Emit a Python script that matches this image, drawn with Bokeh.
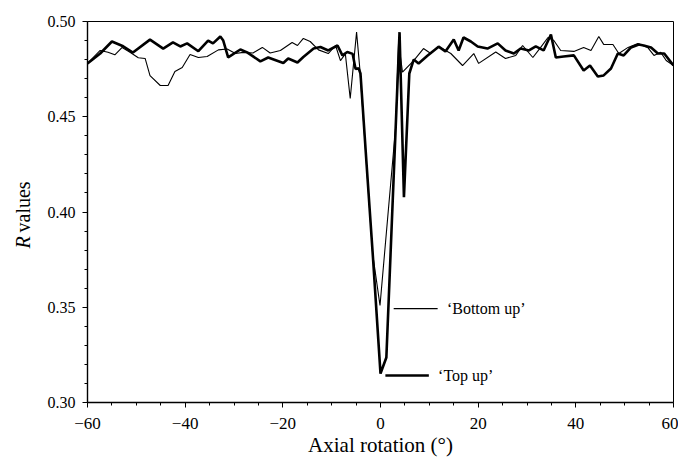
from bokeh.plotting import figure
from bokeh.models import FixedTicker, NumeralTickFormatter, Label, Range1d, Title
from bokeh.embed import file_html
from bokeh.resources import INLINE

# ---- data ----
top_up_deg = [-60, -57.4, -55.0, -52.7, -50.7, -47.2, -44.5, -42.5, -41.0, -39.6,
              -37.3, -35.3, -34.3, -32.8, -32.2, -31.2, -28.7, -27.3, -24.6, -23.0,
              -19.9, -18.9, -17.0, -15.8, -13.7, -12.3, -10.7, -8.8, -7.8, -6.8,
              -5.7, -5.1, -4.5, -4.1, -2.9, -1.5, 0.0, 1.2, 3.9, 4.8,
              5.9, 6.8, 7.8, 9.6, 11.9, 13.3, 15.0, 16.0, 17.0, 18.5,
              19.9, 21.9, 24.0, 25.6, 27.3, 28.7, 30.4, 31.8, 33.4, 34.9,
              35.9, 37.5, 39.6, 41.6, 42.9, 44.5, 45.7, 47.2, 48.6, 49.8,
              51.3, 52.9, 53.9, 55.4, 56.8, 58.1, 60.0]
top_up_r = [0.478, 0.4832, 0.4895, 0.487, 0.4837, 0.4905, 0.4858, 0.489, 0.4869, 0.4885,
            0.4844, 0.490, 0.4885, 0.4921, 0.490, 0.4812, 0.4853, 0.4838, 0.4791, 0.4811,
            0.4782, 0.4806, 0.4785, 0.4814, 0.4858, 0.4866, 0.4848, 0.4874, 0.4822, 0.484,
            0.483, 0.475, 0.4755, 0.4727, 0.427, 0.3745, 0.3152, 0.3236, 0.4944, 0.4078,
            0.4727, 0.480, 0.478, 0.482, 0.4868, 0.4843, 0.4906, 0.4848, 0.4916, 0.4895,
            0.4869, 0.4858, 0.4885, 0.4848, 0.4832, 0.4858, 0.4848, 0.4869, 0.4848, 0.4932,
            0.4811, 0.4816, 0.4822, 0.4743, 0.4769, 0.4711, 0.4717, 0.4753, 0.4832, 0.4822,
            0.4864, 0.4879, 0.4874, 0.4864, 0.4832, 0.4832, 0.4769]

bottom_up_deg = [-60, -57.4, -55.8, -54.4, -52.9, -51.3, -49.6, -48.2, -47.2, -45.1,
                 -43.5, -42.1, -40.6, -39.0, -37.3, -35.5, -33.2, -31.4, -29.7, -28.1,
                 -26.1, -24.2, -22.6, -20.5, -18.1, -17.0, -15.8, -14.4, -12.7, -10.7,
                 -9.2, -8.2, -7.2, -6.2, -4.9, -4.2, -1.6, -0.1, 1.6, 3.1,
                 3.7, 4.5, 6.8, 8.8, 10.3, 11.9, 14.4, 16.8, 19.1, 20.1,
                 23.6, 25.6, 27.7, 29.1, 31.2, 32.8, 34.3, 35.5, 36.9, 39.6,
                 41.6, 43.1, 44.7, 45.7, 47.6, 48.8, 50.7, 52.7, 54.7, 56.0,
                 57.4, 58.5, 60.0]
bottom_up_r = [0.478, 0.4848, 0.4839, 0.4825, 0.4864, 0.4839, 0.481, 0.4806, 0.4716, 0.4664,
               0.4664, 0.4738, 0.4759, 0.4827, 0.4811, 0.4816, 0.4851, 0.4856, 0.4832, 0.4838,
               0.4835, 0.4864, 0.4835, 0.4848, 0.489, 0.4874, 0.4911, 0.4895, 0.4851, 0.4832,
               0.4874, 0.4795, 0.483, 0.4596, 0.4944, 0.4743, 0.378, 0.3509, 0.4008, 0.4444,
               0.489, 0.4734, 0.4795, 0.4858, 0.4832, 0.4869, 0.4832, 0.4769, 0.4832, 0.478,
               0.484, 0.4806, 0.4822, 0.4874, 0.4811, 0.4864, 0.4916, 0.490, 0.4848, 0.4843,
               0.4864, 0.4848, 0.4921, 0.488, 0.4879, 0.4832, 0.4864, 0.4885, 0.4864, 0.4822,
               0.4838, 0.4795, 0.4769]

x_ticks = [-60, -40, -20, 0, 20, 40, 60]
x_tick_labels = ["\u221260", "\u221240", "\u221220", "0", "20", "40", "60"]
x_minor = [-55, -50, -45, -35, -30, -25, -15, -10, -5, 5, 10, 15, 25, 30, 35, 45, 50, 55]
y_ticks = [0.30, 0.35, 0.40, 0.45, 0.50]
y_minor = [0.31, 0.32, 0.33, 0.34, 0.36, 0.37, 0.38, 0.39, 0.41, 0.42, 0.43, 0.44,
           0.46, 0.47, 0.48, 0.49]

FONT = "Liberation Serif"
W, H = 678, 458
FRAME_L, FRAME_T, FRAME_R, FRAME_B = 87, 21, 673, 402

p = figure(width=W, height=H, output_backend="svg", toolbar_location=None,
           x_range=Range1d(-60, 60), y_range=Range1d(0.30, 0.50),
           min_border_left=FRAME_L, min_border_top=FRAME_T,
           min_border_right=W - FRAME_R, min_border_bottom=H - FRAME_B)
p.grid.visible = False
p.outline_line_color = "black"
p.outline_line_width = 1
p.background_fill_color = "white"
p.border_fill_color = "white"

# curves
p.line(bottom_up_deg, bottom_up_r, line_color="black", line_width=1.1)
p.line(top_up_deg, top_up_r, line_color="black", line_width=2.6)

# leader lines + labels
p.line([2.7, 11.7], [0.3493, 0.3493], line_color="black", line_width=1.1)
p.line([1.0, 9.9], [0.3142, 0.3142], line_color="black", line_width=2.6)
p.add_layout(Label(x=13.6, y=0.3493, text="\u2018Bottom up\u2019", text_font=FONT,
                   text_font_size="16px", text_baseline="middle", text_align="left",
                   text_color="black"))
p.add_layout(Label(x=11.8, y=0.3142, text="\u2018Top up\u2019", text_font=FONT,
                   text_font_size="16px", text_baseline="middle", text_align="left",
                   text_color="black"))

# axes
for ax in (p.xaxis[0], p.yaxis[0]):
    ax.axis_line_color = "black"
    ax.axis_line_width = 1.4
    ax.major_tick_line_color = "black"
    ax.minor_tick_line_color = "black"
    ax.major_tick_out = 5
    ax.major_tick_in = 0
    ax.minor_tick_out = 3
    ax.minor_tick_in = 0
    ax.major_label_text_font = FONT
    ax.major_label_text_color = "black"

p.xaxis.ticker = FixedTicker(ticks=x_ticks, minor_ticks=x_minor)
p.xaxis.major_label_overrides = {t: l for t, l in zip(x_ticks, x_tick_labels)}
p.xaxis.major_label_text_font_size = "17px"
p.xaxis.major_label_standoff = 10

p.yaxis.ticker = FixedTicker(ticks=y_ticks, minor_ticks=y_minor)
p.yaxis.formatter = NumeralTickFormatter(format="0.00")
p.yaxis.major_label_text_font_size = "16px"
p.yaxis.major_label_standoff = 7

# axis titles as side-panel titles
p.add_layout(Title(text="Axial rotation (\u00b0)", align="center", text_font=FONT,
                   text_font_size="21px", text_font_style="normal", text_color="black",
                   standoff=-2), "below")
p.add_layout(Title(text="values", align="left", offset=FRAME_B - 232,
                   vertical_align="top", text_font=FONT, text_font_size="20px",
                   text_font_style="normal", text_color="black", standoff=18), "left")
p.add_layout(Title(text="R", align="left", offset=FRAME_B - 248,
                   vertical_align="bottom", text_font=FONT, text_font_size="20px",
                   text_font_style="italic", text_color="black", standoff=-62), "left")

open("out.html", "w").write(file_html(p, INLINE))
